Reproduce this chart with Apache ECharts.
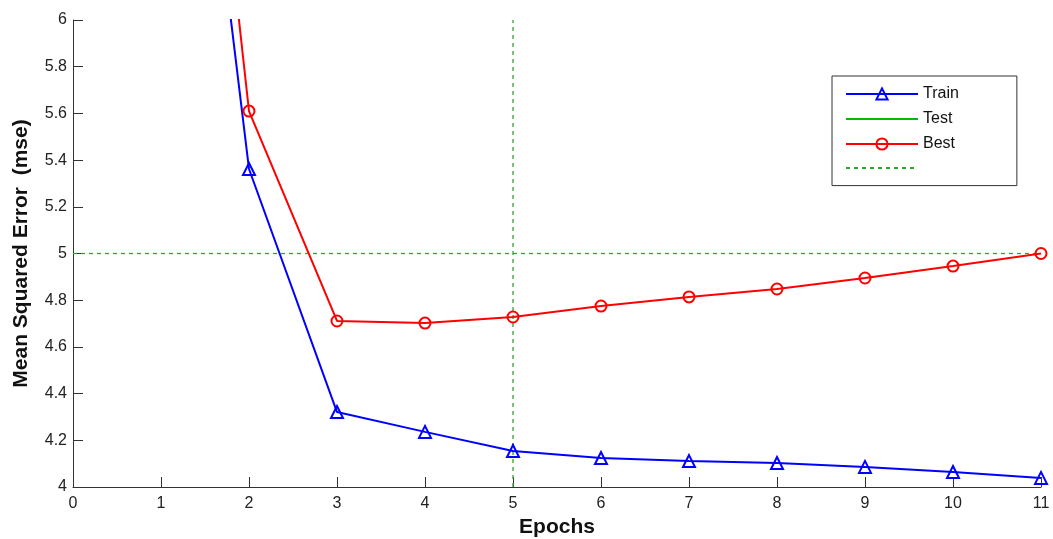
<!DOCTYPE html>
<html>
<head>
<meta charset="utf-8">
<script src="https://cdn.jsdelivr.net/npm/echarts@6/dist/echarts.min.js"></script>
<style>html,body{margin:0;padding:0;background:#fff}#c{width:1053px;height:539px}</style>
</head>
<body>
<div id="c"></div>
<script>
const epochs = [1, 2, 3, 4, 5, 6, 7, 8, 9, 10, 11];
const trainMse = [8.47, 5.362, 4.321, 4.236, 4.154, 4.124, 4.111, 4.103, 4.086, 4.064, 4.039];
const bestMse = [9.03, 5.61, 4.711, 4.702, 4.728, 4.775, 4.814, 4.848, 4.895, 4.946, 5.0];
const testMse = [];
const goalValue = 5;
const bestEpoch = 5;
const xRange = [0, 11];
const yRange = [4, 6];

const font = 'Liberation Sans, Arial, sans-serif';
const green = '#2fa52f';
const chart = echarts.init(document.getElementById('c'), null, {renderer: 'canvas'});
const pair = (xs, ys) => xs.map((x, i) => [x, ys[i]]);
const clear = 'rgba(255,255,255,0)';
const dashStyle = {color: green, width: 1.3, type: [4, 4], opacity: 1};

chart.setOption({
  animation: false,
  backgroundColor: '#fff',
  textStyle: {fontFamily: font},
  grid: {left: 73, right: 12, top: 20, bottom: 52, containLabel: false, outerBoundsMode: 'none'},
  legend: {
    orient: 'vertical',
    left: 832, top: 76,
    padding: [10, 58, 12, 13],
    itemWidth: 72, itemHeight: 14, itemGap: 9, itemTextGap: 8,
    borderColor: '#333', borderWidth: 1,
    backgroundColor: '#fff',
    selectedMode: false,
    textStyle: {fontFamily: font, fontSize: 16, color: '#111'},
    formatter: n => n === 'Goal' ? '' : n,
    data: [
      {name: 'Train'},
      {name: 'Test', itemStyle: {opacity: 0}},
      {name: 'Best'},
      {name: 'Goal', itemStyle: {opacity: 0}}
    ]
  },
  xAxis: {
    type: 'value', min: xRange[0], max: xRange[1], interval: 1,
    name: 'Epochs', nameLocation: 'middle', nameGap: 28,
    nameTextStyle: {fontFamily: font, fontSize: 21, fontWeight: 'bold', color: '#111'},
    axisLine: {show: true, lineStyle: {color: '#333', width: 1}},
    axisTick: {show: true, inside: true, length: 10, lineStyle: {color: '#333'}},
    axisLabel: {fontSize: 16, color: '#222', margin: 9},
    splitLine: {show: false}
  },
  yAxis: {
    type: 'value', min: yRange[0], max: yRange[1], interval: 0.2,
    name: 'Mean Squared Error  (mse)', nameLocation: 'middle', nameGap: 41,
    nameTextStyle: {fontFamily: font, fontSize: 21, fontWeight: 'bold', color: '#111'},
    axisLine: {show: true, lineStyle: {color: '#333', width: 1}},
    axisTick: {show: true, inside: true, length: 10, lineStyle: {color: '#333'}},
    axisLabel: {fontSize: 16, color: '#222', margin: 6},
    splitLine: {show: false}
  },
  series: [
    {
      name: 'Goal', type: 'line', data: [[xRange[0], goalValue], [xRange[1], goalValue]],
      color: green,
      symbol: 'none',
      lineStyle: dashStyle,
      itemStyle: {color: green},
      z: 2
    },
    {
      name: 'BestEpoch', type: 'line', data: [[bestEpoch, yRange[0]], [bestEpoch, yRange[1]]],
      color: green,
      symbol: 'none',
      lineStyle: dashStyle,
      itemStyle: {color: green},
      z: 2
    },
    {
      name: 'Train', type: 'line', data: pair(epochs, trainMse),
      color: '#0000ff',
      symbol: 'triangle', symbolSize: 12, showAllSymbol: true,
      lineStyle: {color: '#0000ff', width: 2},
      itemStyle: {color: clear, borderColor: '#0000ff', borderWidth: 2},
      z: 3
    },
    {
      name: 'Test', type: 'line', data: testMse,
      color: '#00bb00',
      symbol: 'none',
      lineStyle: {color: '#00bb00', width: 2.5},
      itemStyle: {color: '#00bb00'}
    },
    {
      name: 'Best', type: 'line', data: pair(epochs, bestMse),
      color: '#ff0000',
      symbol: 'circle', symbolSize: 11,
      lineStyle: {color: '#ff0000', width: 2},
      itemStyle: {color: clear, borderColor: '#ff0000', borderWidth: 2},
      z: 3
    }
  ]
});
</script>
</body>
</html>
